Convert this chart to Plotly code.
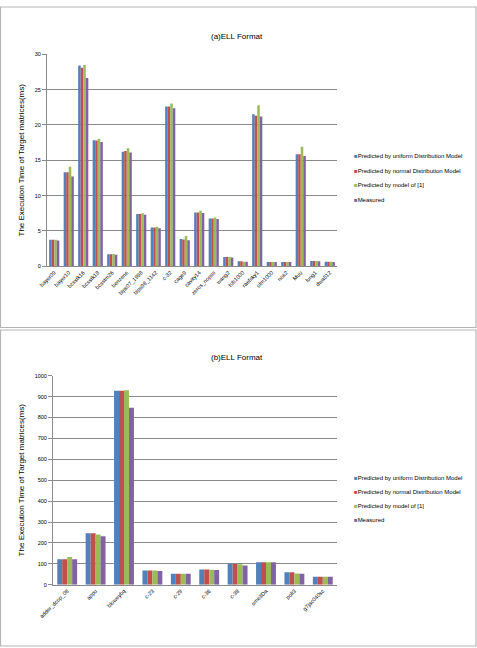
import plotly.graph_objects as go

W, H = 477, 648

# ---------------- data ----------------
cats_a = ["bayer09", "bayer10", "bcsstk16", "bcsstk18", "bcsstm26", "benzene",
          "bips07_1998", "bips98_1142", "c-32", "cage9", "cavity14", "zeros_nopss",
          "wang2", "tub1000", "raefsky1", "olm1000", "nos2", "Muu", "lung1", "dwa512"]
uniform_a = [3.75, 13.3, 28.4, 17.85, 1.7, 16.2, 7.4, 5.5, 22.6, 3.85, 7.6, 6.75,
             1.3, 0.7, 21.5, 0.6, 0.6, 15.85, 0.75, 0.65]
normal_a = [3.75, 13.3, 28.1, 17.8, 1.7, 16.3, 7.4, 5.5, 22.6, 3.8, 7.6, 6.75,
            1.3, 0.7, 21.3, 0.6, 0.6, 15.85, 0.75, 0.65]
model1_a = [3.75, 14.1, 28.5, 18.05, 1.75, 16.7, 7.5, 5.6, 23.05, 4.3, 7.85, 6.9,
            1.3, 0.65, 22.8, 0.6, 0.6, 16.9, 0.75, 0.65]
measured_a = [3.65, 12.7, 26.65, 17.6, 1.65, 16.1, 7.3, 5.4, 22.35, 3.7, 7.55, 6.7,
              1.25, 0.65, 21.2, 0.6, 0.6, 15.6, 0.7, 0.6]

cats_b = ["adder_dcop_08", "appu", "bloweybq", "c-23", "c-29", "c-36", "c-38",
          "sme3Da", "poli3", "g7jac040sc"]
uniform_b = [122, 246, 928, 68, 52, 73, 100, 108, 59, 38]
normal_b = [122, 246, 928, 68, 52, 73, 99, 108, 59, 38]
model1_b = [132, 240, 930, 68, 52, 72, 98, 108, 54, 38]
measured_b = [122, 232, 847, 66, 52, 70, 92, 107, 52, 38]

series_names = ["Predicted by uniform Distribution Model",
                "Predicted by normal Distribution Model",
                "Predicted by model of [1]",
                "Measured"]
colors = ["#4F81BD", "#C0504D", "#9BBB59", "#8064A2"]

FONT = "Liberation Sans, Arial, sans-serif"
GRID = "#8a8a8a"

def px(x):
    return x / W

def py(y):
    return 1 - y / H

fig = go.Figure()

for name, col, vals in zip(series_names, colors, [uniform_a, normal_a, model1_a, measured_a]):
    fig.add_trace(go.Bar(x=cats_a, y=vals, name=name, marker=dict(color=col, line=dict(width=0)),
                         xaxis="x", yaxis="y", showlegend=False))
for name, col, vals in zip(series_names, colors, [uniform_b, normal_b, model1_b, measured_b]):
    fig.add_trace(go.Bar(x=cats_b, y=vals, name=name, marker=dict(color=col, line=dict(width=0)),
                         xaxis="x2", yaxis="y2", showlegend=False))

ytitle = "The Execution Time of Target matrices(ms)"

axis_common = dict(showline=True, linecolor=GRID, linewidth=1, automargin=False)

annotations = [
    dict(text="(a)ELL Format", x=px(237), y=py(36), xref="paper", yref="paper",
         showarrow=False, font=dict(size=8), xanchor="center", yanchor="middle"),
    dict(text="(b)ELL Format", x=px(237), y=py(357), xref="paper", yref="paper",
         showarrow=False, font=dict(size=8), xanchor="center", yanchor="middle"),
]

# legends (one per panel)
legend_rows_a = [156, 170.7, 185.3, 200]
legend_rows_b = [477.7, 491.7, 505.7, 520]
for rows in (legend_rows_a, legend_rows_b):
    for name, col, yy in zip(series_names, colors, rows):
        annotations.append(dict(
            text="<span style='color:%s'>■</span>%s" % (col, name),
            x=px(351.5), y=py(yy), xref="paper", yref="paper", showarrow=False,
            xanchor="left", yanchor="middle", font=dict(size=6, color="#000000")))

fig.update_layout(
    width=W, height=H,
    margin=dict(l=0, r=0, t=0, b=0),
    paper_bgcolor="white", plot_bgcolor="white",
    font=dict(family=FONT, color="#000000"),
    barmode="group", bargap=0.3, bargroupgap=0,
    showlegend=False,
    xaxis=dict(domain=[px(47), px(337)], anchor="y", tickangle=-45,
               tickfont=dict(size=5.5), ticks="", **axis_common),
    yaxis=dict(domain=[py(266.3), py(54.3)], anchor="x", range=[0, 30], dtick=5,
               showgrid=True, gridcolor=GRID, gridwidth=1, zeroline=False,
               ticks="outside", ticklen=4, tickcolor=GRID, tickfont=dict(size=5.5),
               title=dict(text=ytitle, font=dict(size=8), standoff=8), **axis_common),
    xaxis2=dict(domain=[px(53), px(337)], anchor="y2", tickangle=-45,
                tickfont=dict(size=5.5), ticks="", **axis_common),
    yaxis2=dict(domain=[py(584.7), py(375.7)], anchor="x2", range=[0, 1000], dtick=100,
                showgrid=True, gridcolor=GRID, gridwidth=1, zeroline=False,
                ticks="outside", ticklen=4, tickcolor=GRID, tickfont=dict(size=5.5),
                title=dict(text=ytitle, font=dict(size=8), standoff=8), **axis_common),
    annotations=annotations,
    shapes=[
        dict(type="rect", xref="paper", yref="paper", x0=px(0.5), x1=px(476), y0=py(327.5), y1=py(7),
             line=dict(color="#b5b5b5", width=1.2), fillcolor="rgba(0,0,0,0)", layer="above"),
        dict(type="rect", xref="paper", yref="paper", x0=px(0.5), x1=px(476), y0=py(646), y1=py(330),
             line=dict(color="#b5b5b5", width=1.2), fillcolor="rgba(0,0,0,0)", layer="above"),
    ],
)

fig.write_html("out.html")
